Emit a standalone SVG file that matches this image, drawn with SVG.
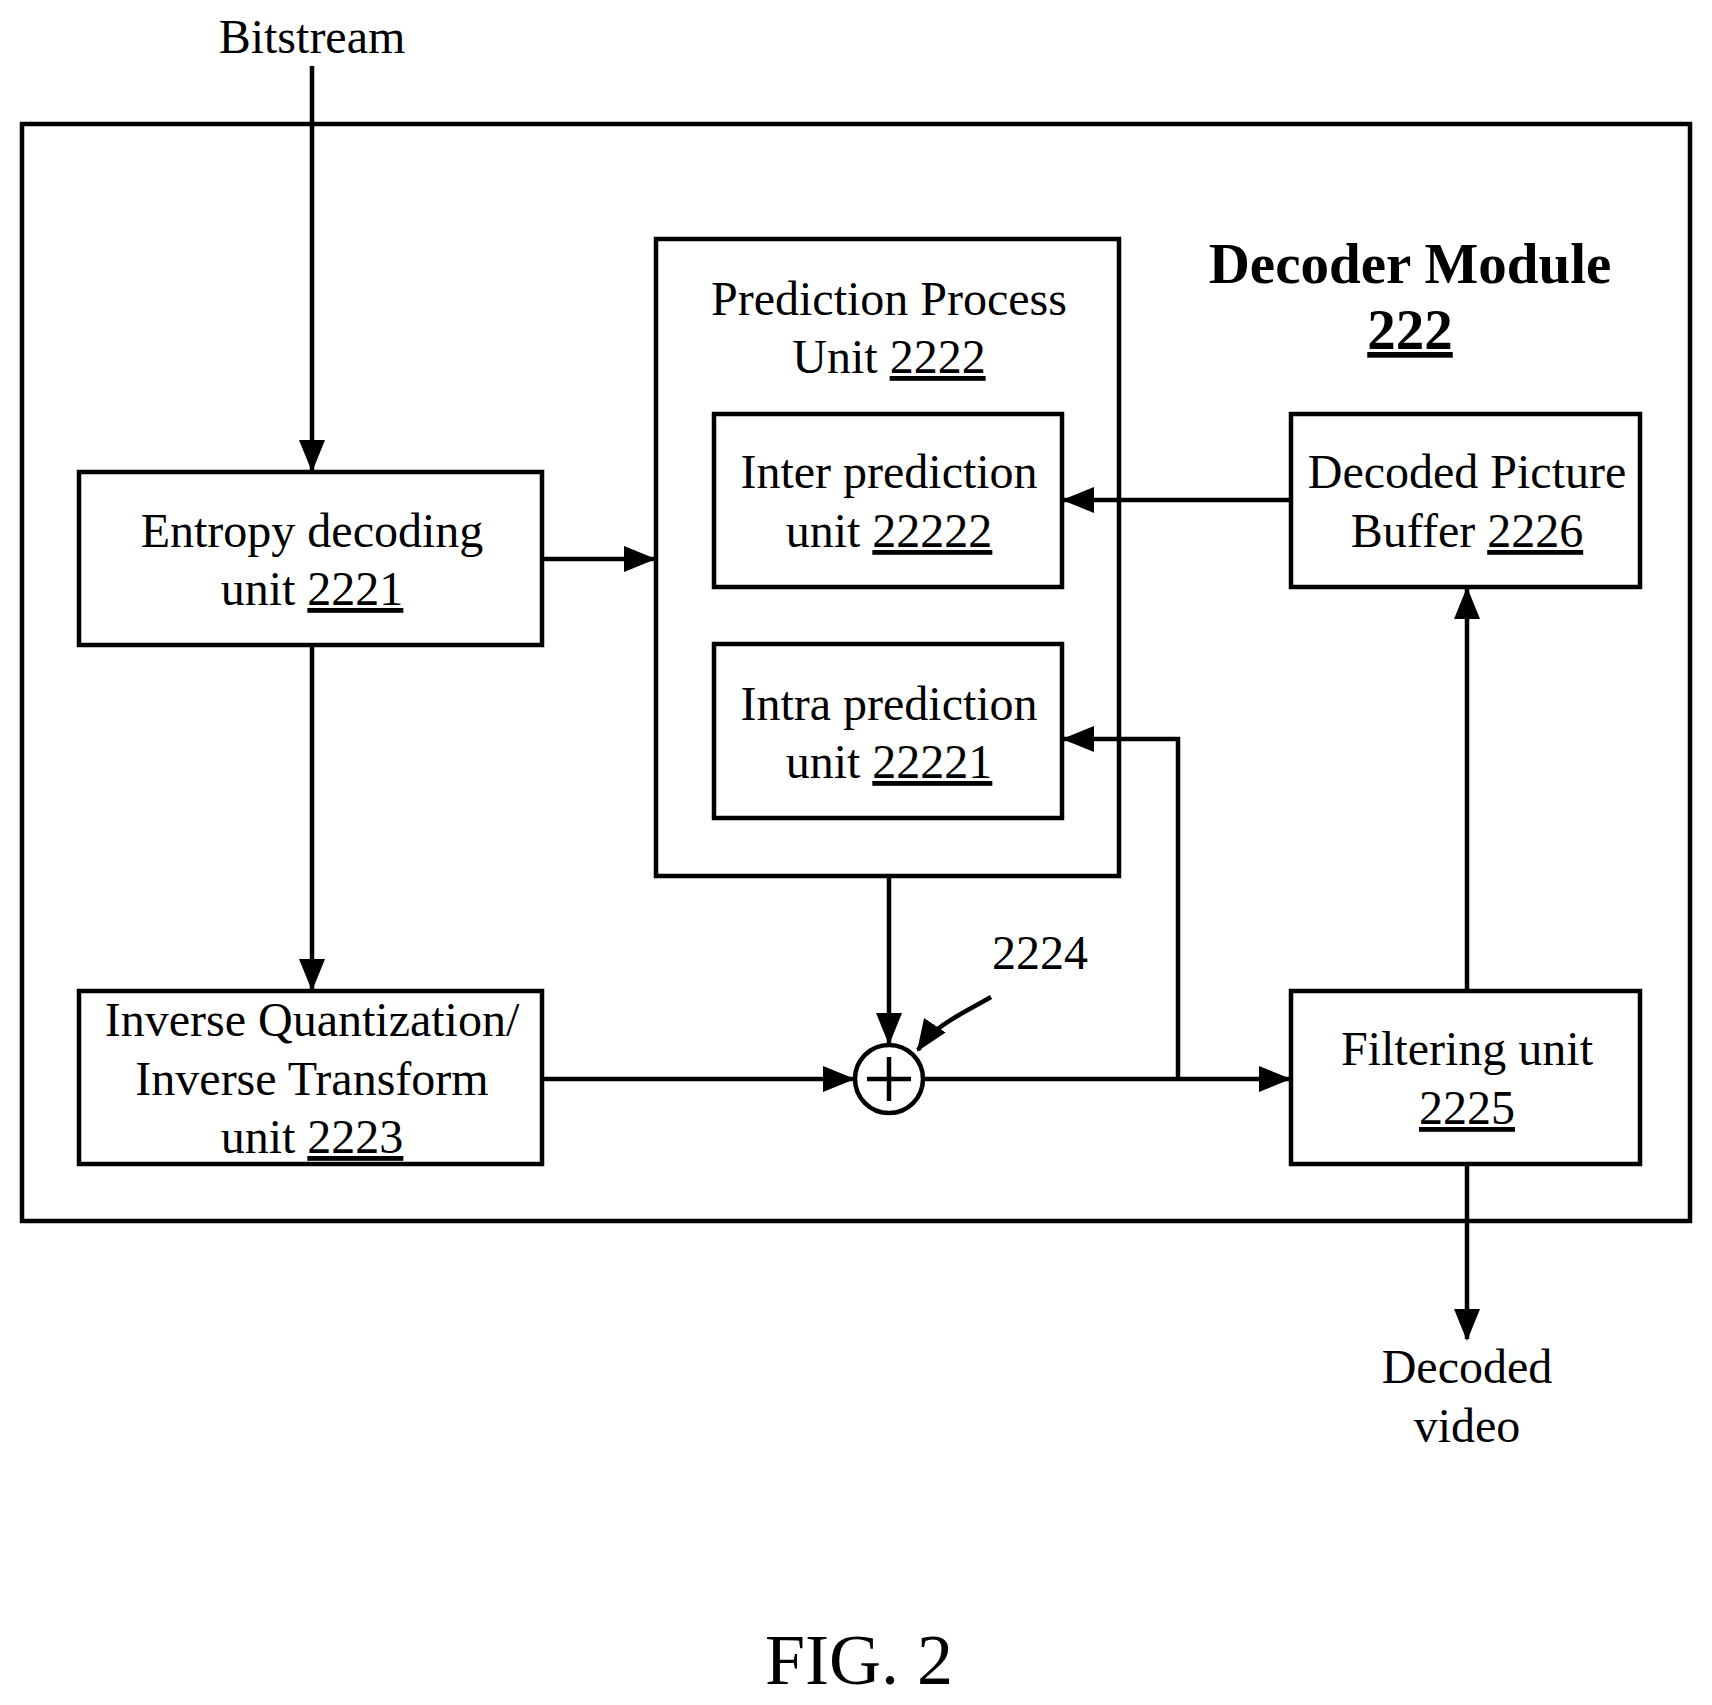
<svg xmlns="http://www.w3.org/2000/svg" width="1712" height="1705" viewBox="0 0 1712 1705">
<defs>
<marker id="b" markerWidth="32" markerHeight="26" refX="30" refY="13" orient="auto" markerUnits="userSpaceOnUse"><path d="M0,0 L32,13 L0,26 Z" fill="#000"/></marker>
</defs>
<style>
text{font-family:"Liberation Serif",serif;font-size:48px;text-anchor:middle;fill:#000}
.box{fill:#fff;stroke:#000;stroke-width:4.5}
.c{fill:none;stroke:#000;stroke-width:4.5}
.u{text-decoration:underline}
.big{font-weight:bold;font-size:57px}
</style>
<rect width="1712" height="1705" fill="#fff"/>
<g id="module"><rect class="box" x="22" y="124" width="1668" height="1097"/>
<text x="1410" y="283" class="big">Decoder Module</text>
<text x="1410" y="349" class="big u">222</text></g>
<g id="pred"><rect class="box" x="656" y="239" width="463" height="637"/>
<text x="889" y="315">Prediction Process</text>
<text x="889" y="373">Unit <tspan class="u">2222</tspan></text></g>
<g id="inter"><rect class="box" x="714" y="414" width="348" height="173"/>
<text x="889" y="488">Inter prediction</text><text x="889" y="547">unit <tspan class="u">22222</tspan></text></g>
<g id="intra"><rect class="box" x="714" y="644" width="348" height="174"/>
<text x="889" y="720">Intra prediction</text><text x="889" y="778">unit <tspan class="u">22221</tspan></text></g>
<g id="entropy"><rect class="box" x="79" y="472" width="463" height="173"/>
<text x="312" y="547">Entropy decoding</text><text x="312" y="605">unit <tspan class="u">2221</tspan></text></g>
<g id="iq"><rect class="box" x="79" y="991" width="463" height="173"/>
<text x="312" y="1036">Inverse Quantization/</text><text x="312" y="1095">Inverse Transform</text><text x="312" y="1153">unit <tspan class="u">2223</tspan></text></g>
<g id="dpb"><rect class="box" x="1291" y="414" width="349" height="173"/>
<text x="1467" y="488">Decoded Picture</text><text x="1467" y="547">Buffer <tspan class="u">2226</tspan></text></g>
<g id="filter"><rect class="box" x="1291" y="991" width="349" height="173"/>
<text x="1467" y="1065">Filtering unit</text><text x="1467" y="1124" class="u">2225</text></g>
<g id="sum"><circle class="box" cx="889" cy="1079" r="34"/>
<path class="c" d="M867,1079 H911 M889,1057 V1101"/>
<text x="1040" y="969">2224</text></g>
<text x="312" y="53">Bitstream</text>
<text x="1467" y="1383">Decoded</text><text x="1467" y="1442">video</text>
<text x="859" y="1684" style="font-size:72px">FIG. 2</text>
<g id="connectors">
<path class="c" d="M312,66 V470" marker-end="url(#b)"/>
<path class="c" d="M542,559 H654" marker-end="url(#b)"/>
<path class="c" d="M312,645 V989" marker-end="url(#b)"/>
<path class="c" d="M542,1079 H853" marker-end="url(#b)"/>
<path class="c" d="M889,876 V1043" marker-end="url(#b)"/>
<path class="c" d="M923,1079 H1289" marker-end="url(#b)"/>
<path class="c" d="M1178,1079 V739 H1064" marker-end="url(#b)"/>
<path class="c" d="M1291,500 H1064" marker-end="url(#b)"/>
<path class="c" d="M1467,991 V589" marker-end="url(#b)"/>
<path class="c" d="M1467,1164 V1339" marker-end="url(#b)"/>
<path class="c" d="M991,997 C960,1015 935,1025 918,1050" marker-end="url(#b)"/>
</g>
</svg>
